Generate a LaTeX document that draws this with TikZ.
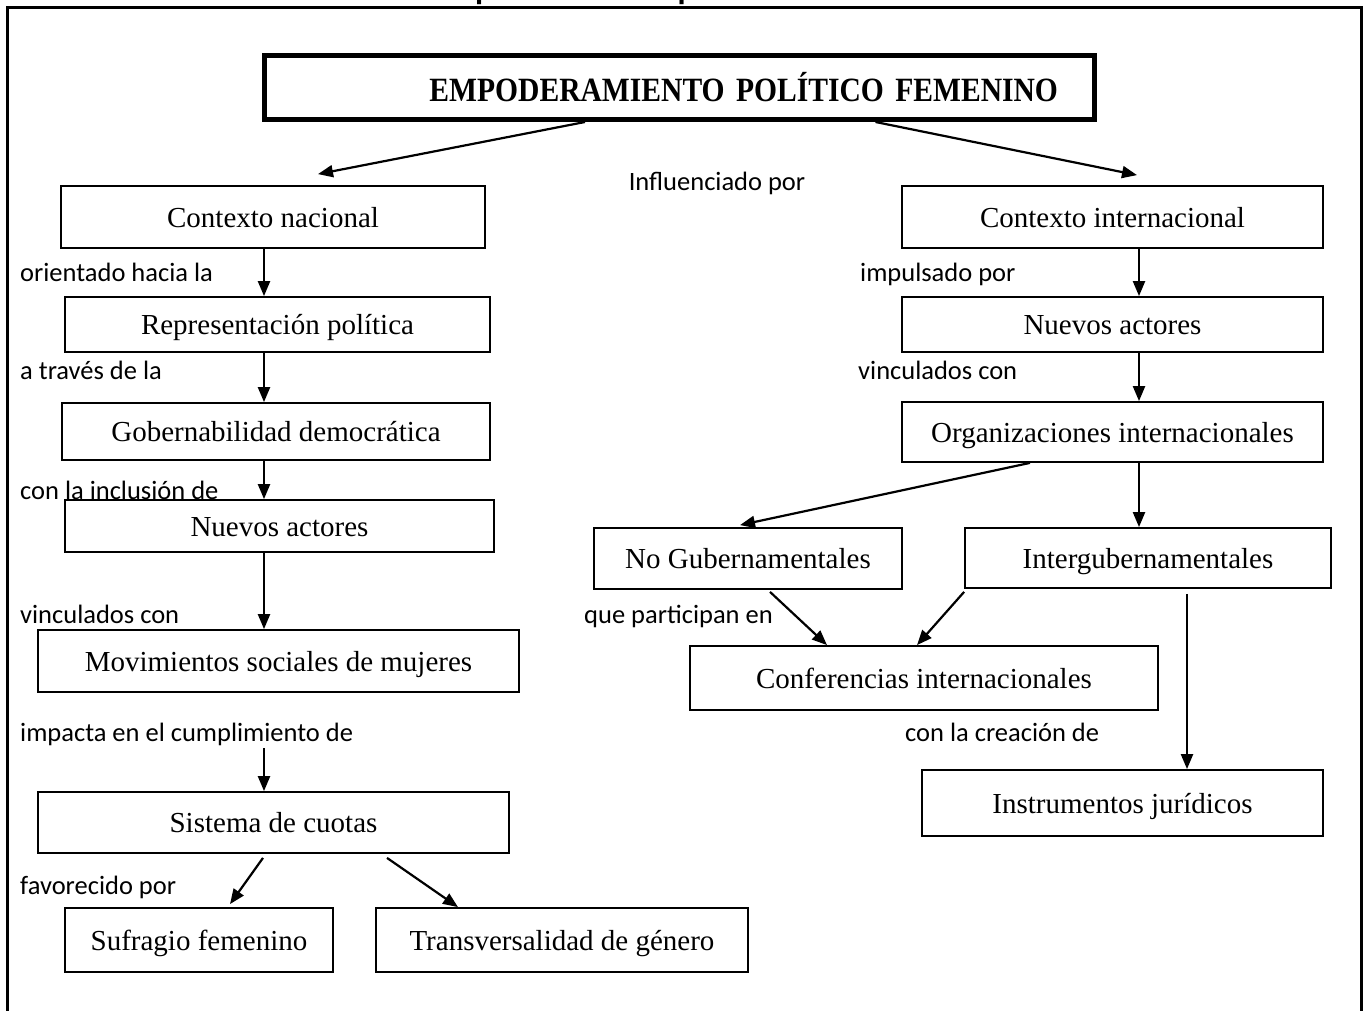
\documentclass[tikz,border=0pt]{standalone}
\usepackage{fontspec}
\setmainfont{Liberation Serif}
\newfontfamily\labelfont{Carlito}
\newfontfamily\titlefont[FakeStretch=0.87]{Liberation Serif}
\usetikzlibrary{arrows.meta,calc}

\begin{document}
\begin{tikzpicture}[x=1pt,y=-1pt,>={Triangle[length=15pt,width=12pt]},
  caja/.style={draw,line width=1.8pt,inner sep=0pt,text height=21pt,text depth=1pt,
    font=\fontsize{29}{32}\selectfont},
  nota/.style={anchor=west,inner sep=0pt,text height=20pt,text depth=0pt,
    font=\labelfont\fontsize{26.5}{30}\selectfont},
  flecha/.style={->,line width=2.2pt}]
\useasboundingbox (0,0) rectangle (1365,1011);
\draw[line width=3pt](7,1020)--(7,8)--(1361,8)--(1361,1020);
\node[anchor=base west,inner sep=0pt,font=\labelfont\bfseries\fontsize{33}{36}\selectfont] (pie) at (432,-0.5) {Empoderamiento político femenino.};

% titulo
\node[draw,line width=5pt,minimum height=64pt,text width=757pt,inner xsep=36.5pt,inner ysep=0pt,align=right,
  font=\titlefont\bfseries\fontsize{34}{36}\selectfont] (tit) at (679.5,87.5) {EMPODERAMIENTO POLÍTICO FEMENINO};
\node[nota,anchor=center] (infl) at (717,181) {Influenciado por};

% contexto nacional
\node[caja,minimum width=424pt,minimum height=62pt] (nac) at (273,217) {Contexto nacional};
\node[caja,minimum width=425pt,minimum height=55pt] (rep) at (277.5,324.5) {Representación política};
\node[caja,minimum width=428pt,minimum height=57pt] (gob) at (276,431.5) {Gobernabilidad democrática};
\node[caja,minimum width=429pt,minimum height=52pt] (actL) at (279.5,526) {Nuevos actores};
\node[caja,minimum width=481pt,minimum height=62pt] (mov) at (278.5,661) {Movimientos sociales de mujeres};
\node[caja,minimum width=471pt,minimum height=61pt] (cuo) at (273.5,822.5) {Sistema de cuotas};
\node[caja,minimum width=268pt,minimum height=64pt] (suf) at (199,940) {Sufragio femenino};
\node[caja,minimum width=372pt,minimum height=64pt] (tra) at (562,940) {Transversalidad de género};
\node[nota] (n1) at (20,271) {orientado hacia la};
\node[nota] (n2) at (20,369) {a través de la};
\node[nota] (n3) at (20,489) {con la inclusión de};
\node[nota] (n4) at (20,613) {vinculados con};
\node[nota] (n5) at (20,731) {impacta en el cumplimiento de};
\node[nota] (n6) at (20,884) {favorecido por};

% contexto internacional
\node[caja,minimum width=421pt,minimum height=62pt] (inter) at (1112.5,217) {Contexto internacional};
\node[caja,minimum width=421pt,minimum height=55pt] (actR) at (1112.5,324.5) {Nuevos actores};
\node[caja,minimum width=421pt,minimum height=60pt] (org) at (1112.5,432) {Organizaciones internacionales};
\node[caja,minimum width=308pt,minimum height=61pt] (nogub) at (748,558.5) {No Gubernamentales};
\node[caja,minimum width=366pt,minimum height=60pt] (intgub) at (1148,558) {Intergubernamentales};
\node[caja,minimum width=468pt,minimum height=64pt] (conf) at (924,678) {Conferencias internacionales};
\node[caja,minimum width=401pt,minimum height=66pt] (jur) at (1122.5,803) {Instrumentos jurídicos};
\node[nota] (m1) at (860,271) {impulsado por};
\node[nota] (m2) at (858,369) {vinculados con};
\node[nota] (m3) at (584,613) {que participan en};
\node[nota] (m4) at (905,731) {con la creación de};

\coordinate (lx) at (264,0);
\coordinate (rx) at (1139,0);
\coordinate (ix) at (1187,0);
\coordinate (impacta) at (264,748);

\draw[flecha] ($(tit.south)+(-94.5,0)$) -- ($(nac.north)+(45,-11)$);
\draw[flecha] ($(tit.south)+(196,0)$) -- ($(inter.north)+(24.5,-10)$);

\draw[flecha] (nac.south -| lx) -- (rep.north -| lx);
\draw[flecha] (rep.south -| lx) -- (gob.north -| lx);
\draw[flecha] (gob.south -| lx) -- (actL.north -| lx);
\draw[flecha] (actL.south -| lx) -- (mov.north -| lx);
\draw[flecha] (impacta) -- (cuo.north -| lx);
\draw[flecha] ($(cuo.south)+(-10.5,4)$) -- ($(suf.north)+(31,-3)$);
\draw[flecha] ($(cuo.south)+(113.5,4)$) -- ($(tra.north)+(-104,0)$);

\draw[flecha] (inter.south -| rx) -- (actR.north -| rx);
\draw[flecha] (actR.south -| rx) -- (org.north -| rx);
\draw[flecha] (org.south -| rx) -- (intgub.north -| rx);
\draw[flecha] ($(org.south)+(-82.5,0)$) -- ($(nogub.north)+(-8,-2)$);
\draw[flecha] ($(nogub.south)+(22,2)$) -- ($(conf.north)+(-97,0)$);
\draw[flecha] ($(intgub.south west)+(0,3)$) -- ($(conf.north)+(-7,0)$);
\draw[flecha] ($(intgub.south -| ix)+(0,5)$) -- (jur.north -| ix);
\end{tikzpicture}
\end{document}
